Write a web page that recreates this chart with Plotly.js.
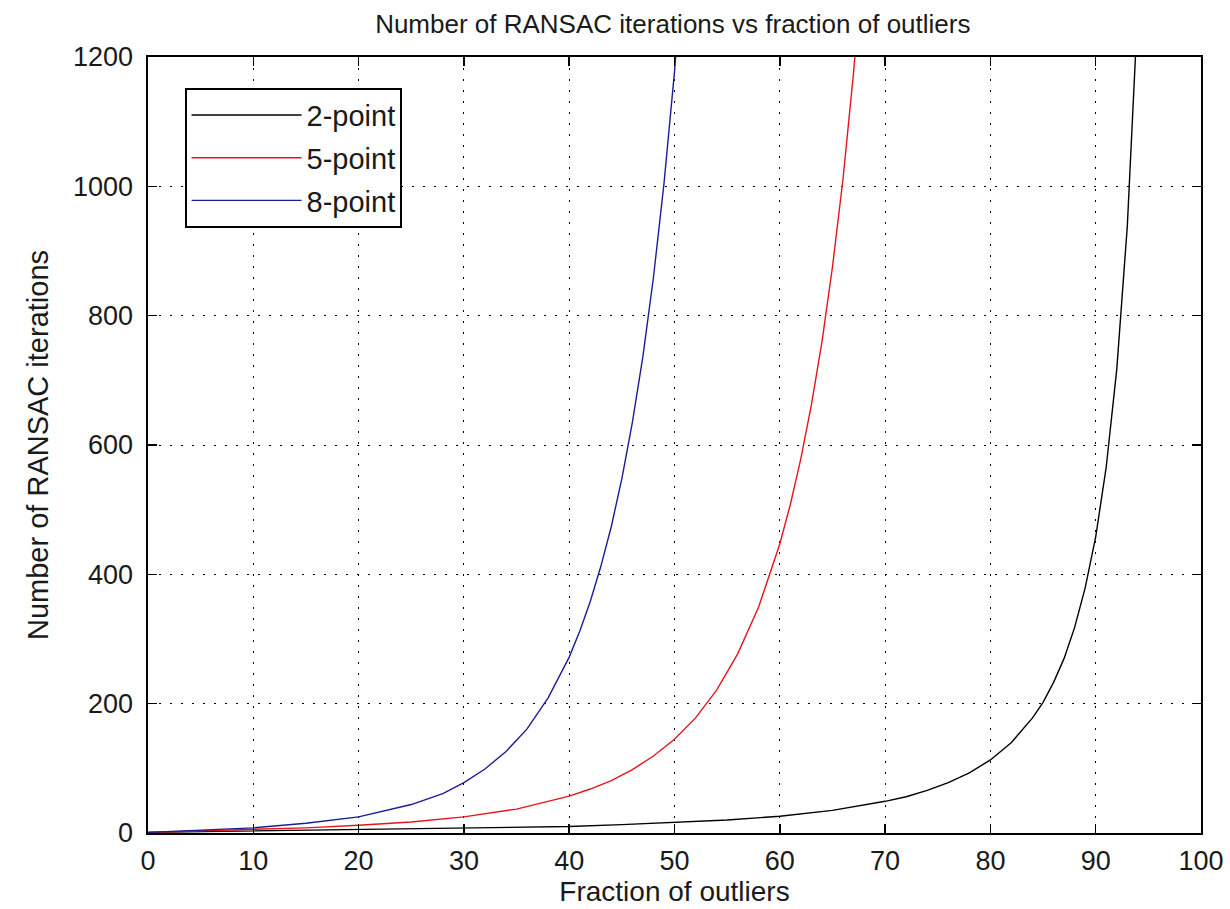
<!DOCTYPE html>
<html>
<head>
<meta charset="utf-8">
<script src="https://cdn.plot.ly/plotly-3.0.1.min.js"></script>
<style>
html,body{margin:0;padding:0;background:#fff;}
#chart{width:1230px;height:909px;}
</style>
</head>
<body>
<div id="chart"></div>
<script>
// Fraction of outliers (%) and iteration counts
const x2 = [0, 5, 10, 15, 20, 25, 30, 35, 40, 45, 50, 55, 60, 65, 70, 72, 74, 76, 78, 80, 82, 84, 85, 86, 87, 88, 89, 90, 91, 92, 93, 94];
const y2 = [1, 2, 3, 4, 5, 6, 7, 8, 10, 13, 16, 20, 26, 35, 49, 56, 66, 78, 93, 113, 140, 178, 202, 233, 270, 318, 379, 458, 566, 717, 938, 1277];

const x5 = [0, 5, 10, 15, 20, 25, 30, 35, 40, 42, 44, 46, 48, 50, 52, 54, 56, 58, 60, 61, 62, 63, 64, 65, 66, 67, 68];
const y5 = [1, 3, 5, 8, 12, 17, 25, 37, 57, 68, 81, 98, 119, 145, 178, 221, 277, 350, 447, 508, 579, 662, 759, 875, 1011, 1175, 1370];

const x8 = [0, 5, 10, 15, 20, 25, 28, 30, 32, 34, 36, 38, 40, 41, 42, 43, 44, 45, 46, 47, 48, 49, 50, 51];
const y8 = [1, 4, 8, 15, 25, 44, 61, 78, 99, 126, 161, 209, 272, 312, 358, 412, 474, 548, 635, 737, 859, 1004, 1177, 1383];

const seriesNames = ['2-point', '5-point', '8-point'];
const seriesColors = ['#000000', '#e8141c', '#1c1c96'];

const xTicks = [0, 10, 20, 30, 40, 50, 60, 70, 80, 90, 100];
const yTicks = [0, 200, 400, 600, 800, 1000, 1200];

const FONT = '"Liberation Sans", Arial, sans-serif';

const xs = [x2, x5, x8], ys = [y2, y5, y8];
const traces = xs.map((xv, i) => ({
  x: xv, y: ys[i], type: 'scatter', mode: 'lines',
  name: seriesNames[i], legendgroup: 'g' + i,
  line: {color: seriesColors[i], width: 1.4},
  hoverinfo: 'skip'
}));

const axisCommon = {
  showline: true, linecolor: '#000', linewidth: 1.6, mirror: 'ticks',
  ticks: 'inside', ticklen: 9, tickwidth: 1.6, tickcolor: '#000',
  showgrid: true, gridcolor: '#000', gridwidth: 1, griddash: '2px,9px',
  zeroline: false,
  tickfont: {family: FONT, size: 27, color: '#1a1a1a'},
  automargin: false
};

const layout = {
  width: 1230, height: 909,
  paper_bgcolor: '#fff', plot_bgcolor: '#fff',
  margin: {l: 148, r: 29, t: 57, b: 76},
  title: {text: 'Number of RANSAC iterations vs fraction of outliers',
          font: {family: FONT, size: 26, color: '#1a1a1a'},
          x: 0.547, xanchor: 'center', y: 0.974, yanchor: 'middle'},
  xaxis: Object.assign({}, axisCommon, {
    range: [0, 100], tickvals: xTicks, ticktext: xTicks.map(String),
    ticklabelstandoff: 3,
    title: {text: 'Fraction of outliers', font: {family: FONT, size: 28, color: '#1a1a1a'}, standoff: 6}
  }),
  yaxis: Object.assign({}, axisCommon, {
    range: [0, 1200], tickvals: yTicks, ticktext: yTicks.map(String),
    ticklabelstandoff: 8,
    title: {text: 'Number of RANSAC iterations', font: {family: FONT, size: 29, color: '#1a1a1a'}, standoff: 16}
  }),
  showlegend: true,
  legend: {
    x: 0.0351, y: 0.96, xanchor: 'left', yanchor: 'top',
    bgcolor: '#fff', bordercolor: '#000', borderwidth: 1.6,
    font: {family: FONT, size: 29, color: '#1a1a1a'},
    tracegroupgap: 2, itemwidth: 110, entrywidth: 232
  }
};

Plotly.newPlot('chart', traces, layout, {displayModeBar: false, staticPlot: true});
</script>
</body>
</html>
